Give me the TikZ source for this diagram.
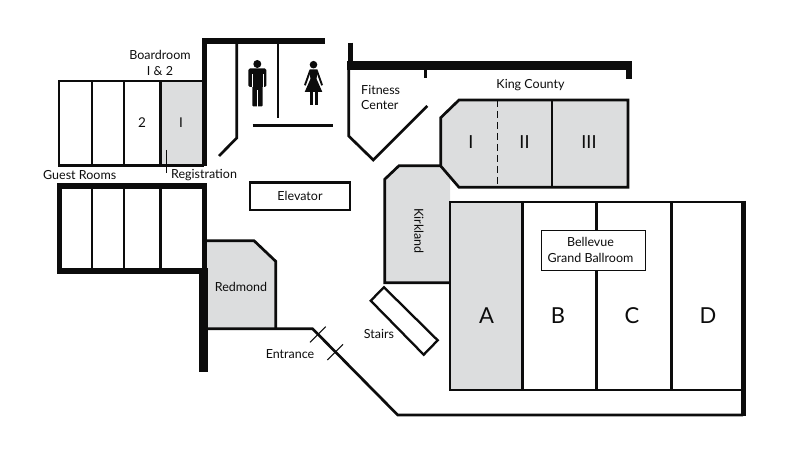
\documentclass[tikz,border=0pt]{standalone}
\usepackage{fontspec}
\setmainfont{Lato}
\definecolor{roomgray}{RGB}{220,221,222}
\definecolor{ink}{RGB}{12,12,12}
\tikzset{
  x=1pt,y=-1pt,
  wall/.style={draw=ink,line width=2.7pt,line join=miter},
  wallthin/.style={draw=ink,line width=2.3pt,line join=miter},
  wallfat/.style={draw=ink,line width=5.6pt},
  wallmax/.style={draw=ink,line width=9pt},
  hair/.style={draw=ink,line width=1pt},
  room/.style={fill=roomgray,draw=none},
  lab/.style={text=ink,font=\fontsize{12.5}{15.5}\selectfont,align=center,inner sep=0pt},
  num/.style={text=ink,font=\fontsize{13.5}{16}\selectfont,inner sep=0pt},
  big/.style={text=ink,font=\fontsize{22}{25}\selectfont,inner sep=0pt},
  roman/.style={text=ink,font=\fontsize{18}{20}\selectfont,inner sep=0pt},
  figure/.style={fill=ink,draw=none}
}
\begin{document}
\begin{tikzpicture}
\useasboundingbox (0,0) rectangle (799,454);
% gray rooms
\fill[room] (160,81) rectangle (204,166);
\fill[room] (207,240.7) -- (254,240.7) -- (275.7,261.3) -- (275.7,328.7) -- (207,328.7) -- cycle;
\fill[room] (384.7,179.3) -- (399,165.7) -- (441,165.7) -- (450,175) -- (450,282.7) -- (384.7,282.7) -- cycle;
\fill[room] (440.7,117.7) -- (459,100) -- (628,100) -- (628,187.3) -- (459,187.3) -- (440.7,166) -- cycle;
\fill[room] (450,202) rectangle (522.3,390);
% boardrooms
\draw[wall] (204,81) -- (59,81) -- (59,165.7) -- (204,165.7);
\foreach \dx in {92,124,160.3} \draw[wall] (\dx,81) -- (\dx,165.7);
% upper walls
\draw[wallfat] (204.5,166) -- (204.5,41.3) -- (325,41.3);
\draw[wall] (236.7,43) -- (236.7,138) -- (219,156);
\draw[wall] (278,43) -- (278,118);
\draw[wall] (252.7,125.7) -- (333,125.7);
\draw[hair] (166,150) -- (166,173);
\draw[wall] (250,182.7) rectangle (350,210);
% guest rooms
\foreach \dx in {92,124,160.3} \draw[wall] (\dx,186) -- (\dx,271);
\draw[wallfat] (204.5,271) -- (204.5,186) -- (59.5,186) -- (59.5,271) -- (200,271);
\draw[wallmax] (203,268.3) -- (203,372);
% Redmond and entrance
\draw[wall] (207,240.7) -- (254,240.7) -- (275.7,261.3) -- (275.7,328.7);
\draw[wall] (207,328.7) -- (312.5,328.7) -- (397.7,415) -- (743,415);
\draw[hair] (310,342.3) -- (325.7,326.7);
\draw[hair] (327.3,360) -- (343,344.3);
% stairs
\draw[wallthin] (384,287.3) -- (437.7,340.3) -- (423.7,354.7) -- (370.7,300.7) -- cycle;
% Kirkland
\draw[wall] (450,282.7) -- (384.7,282.7) -- (384.7,179.3) -- (399,165.7) -- (441,165.7);
% King County
\draw[wall] (440.7,117.7) -- (459,100) -- (628,100) -- (628,187.3) -- (459,187.3) -- (440.7,166) -- cycle;
\draw[wall] (552,100) -- (552,187.3);
\draw[draw=ink,line width=1.2pt,dash pattern=on 7pt off 4pt] (497.3,100) -- (497.3,187.3);
% top right wall
\draw[wallmax] (347.3,66) -- (632.3,66);
\draw[wallfat] (350.3,42.7) -- (350.3,66);
\draw[wallfat] (629.2,66) -- (629.2,79.3);
\draw[wall] (425.7,70) -- (425.7,77.7);
\draw[wall] (348.7,70) -- (348.7,136) -- (373.3,160) -- (427.3,106);
% ballroom
\draw[wallthin] (743,202) -- (450,202) -- (450,390) -- (743,390);
\foreach \dx in {522.3,596.3,671.3} \draw[wall] (\dx,202) -- (\dx,390);
\draw[draw=ink,line width=5pt] (743.5,200.9) -- (743.5,416.3);
\node[draw=ink,line width=1.1pt,fill=white,minimum width=104pt,minimum height=39.6pt,inner sep=0pt,anchor=center] (ballbox) at (593.7,250.5) {};
% man
\fill[figure] (257.3,64) circle (4);
\fill[figure,rounded corners=1.5pt] (248.3,68.5) rectangle (266.3,87);
\fill[figure,rounded corners=1pt] (252.3,75) rectangle (262.7,106.5);
\fill[white] (257.1,90) rectangle (257.9,107);
\fill[white] (251.5,74.5) rectangle (252.2,87.5);
\fill[white] (262.8,74.5) rectangle (263.5,87.5);
% woman
\fill[figure] (313.5,64.7) circle (3.8);
\fill[figure] (309.5,69.5) -- (317.5,69.5) -- (316.6,79) -- (322.3,92) -- (304.7,92) -- (310.4,79) -- cycle;
\draw[ink,line width=1.9pt] (310.2,70.5) -- (304.9,85.3);
\draw[ink,line width=1.9pt] (316.8,70.5) -- (322.1,85.3);
\fill[figure] (309.5,91) rectangle (313,105.4);
\fill[figure] (314.5,91) rectangle (317.8,105.4);
% labels
\node[lab] (lb) at (160,63) {Boardroom\\[0.5pt]I \& 2};
\node[num] (l2) at (142,123) {2};
\node[num] (l1) at (181,123) {I};
\node[lab,anchor=west] (lg) at (43,175.5) {Guest Rooms};
\node[lab,anchor=west] (lr) at (171,175) {Registration};
\node[lab] (le) at (300,196) {Elevator};
\node[lab,align=left,anchor=west] (lf) at (361,97.5) {Fitness\\Center};
\node[lab] (lk) at (530.5,85.5) {King County};
\node[lab,rotate=-90] (lki) at (419,231) {Kirkland};
\node[lab] (lre) at (241,286.5) {Redmond};
\node[lab] (lst) at (379,333.5) {Stairs};
\node[lab] (len) at (290,354.5) {Entrance};
\node[lab] (lbb) at (590.5,250) {Bellevue\\Grand Ballroom};
\node[roman] (r1) at (471,142.5) {I};
\node[roman] (r2) at (524.5,142.5) {II};
\node[roman] (r3) at (589,142.5) {III};
\node[big] (ba) at (486.5,316) {A};
\node[big] (bb) at (558,316) {B};
\node[big] (bc) at (632,316) {C};
\node[big] (bd) at (708,316) {D};
\end{tikzpicture}
\end{document}
